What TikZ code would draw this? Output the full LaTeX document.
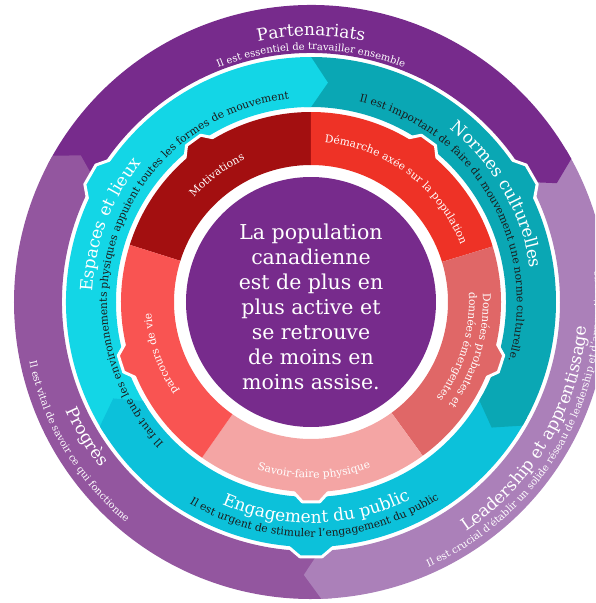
\documentclass[tikz,border=0pt]{standalone}
\usepackage{fontspec}
\setmainfont{DejaVu Serif}
\usepackage{xcolor}
\usetikzlibrary{decorations.text,calc}

\definecolor{partpurple}{HTML}{772B8C}
\definecolor{progpurple}{HTML}{93569F}
\definecolor{leadlilac}{HTML}{AB80B9}
\definecolor{espcyan}{HTML}{13D6E6}
\definecolor{normteal}{HTML}{0AA7B4}
\definecolor{engcyan}{HTML}{0CC1DA}
\definecolor{motivred}{HTML}{A30F10}
\definecolor{demred}{HTML}{EE3226}
\definecolor{donred}{HTML}{E06767}
\definecolor{savpink}{HTML}{F4A5A4}
\definecolor{parcred}{HTML}{F95452}
\definecolor{darktext}{HTML}{1B1B1B}

\begin{document}
\begin{tikzpicture}[x=1pt,y=1pt]
  \useasboundingbox (-311,-301) rectangle (284,302);
  \clip (-311,-301) rectangle (284,302);

  % #1 is inner radius
  % #2 is outer radius
  % #3 and #4 are the angles
  % #5 is colour
  \newcommand{\ringpart}[5]{
    \fill[#5] (#3:#1) arc[start angle=#3, end angle=#4, radius=#1]
      -- (#4:#2) arc[start angle=#4, end angle=#3, radius=#2] -- cycle;
  }

  % chevron at the end of a part, points clockwise
  % #3 is the angle of the border, #4 how far the tip goes
  \newcommand{\ringtip}[5]{
    \fill[#5] ({#3+2}:#1) -- (#3:#1) -- ({#3-#4}:{(#1+#2)/2}) -- (#3:#2) -- ({#3+2}:#2) -- cycle;
  }

  % bump on the outer edge of a part
  % #1 is outer radius, #2 is angle, #3 is colour
  \newcommand{\ringbump}[3]{
    \filldraw[fill=#3, draw=white, line width=3pt, line join=round]
      ({#2+7}:{#1-4}) -- ({#2+2.5}:{#1+10}) -- ({#2-2.5}:{#1+10}) -- ({#2-7}:{#1-4}) -- cycle;
  }

  % #1 is radius, #2 and #3 are the angles, #4 is format, #5 is text
  \newcommand{\arctext}[5]{
    \path[decorate, decoration={text along path, text align=center, text={|#4|#5}}]
      (#2:#1) arc[start angle=#2, end angle=#3, radius=#1];
  }

  \newcommand{\titlefmt}{\color{white}\fontsize{17}{20}\selectfont}
  \newcommand{\outerfmt}{\color{white}\fontsize{10}{12}\selectfont}
  \newcommand{\midfmt}{\color{darktext}\fontsize{10.7}{12}\selectfont}
  \newcommand{\innerfmt}{\color{white}\fontsize{10.7}{12}\selectfont}

  % outer ring
  \ringpart{249}{297}{28.8}{150.5}{partpurple}
  \ringpart{249}{297}{150.5}{272}{progpurple}
  \ringpart{249}{297}{-88}{28.8}{leadlilac}
  \ringtip{249}{297}{28.8}{3}{partpurple}
  \ringtip{249}{297}{150.5}{3}{progpurple}
  \ringtip{249}{297}{-88}{3.5}{leadlilac}

  % middle ring
  \ringbump{245}{150}{espcyan}
  \ringbump{245}{30}{normteal}
  \ringbump{245}{-90}{engcyan}
  \ringpart{195}{245}{90}{210.5}{espcyan}
  \ringpart{195}{245}{-30.3}{90}{normteal}
  \ringpart{195}{245}{210.5}{329.7}{engcyan}
  \ringtip{195}{245}{90}{4.4}{espcyan}
  \ringtip{195}{245}{-30.3}{4.5}{normteal}
  \ringtip{195}{245}{210.5}{4.5}{engcyan}

  % inner ring
  \ringbump{190}{126}{motivred}
  \ringbump{190}{54}{demred}
  \ringbump{190}{-18}{donred}
  \ringbump{190}{-90}{savpink}
  \ringbump{190}{198}{parcred}
  \ringpart{137}{190}{90}{162.5}{motivred}
  \ringpart{137}{190}{17}{90}{demred}
  \ringpart{137}{190}{-54}{17}{donred}
  \ringpart{137}{190}{235}{306}{savpink}
  \ringpart{137}{190}{162.5}{235}{parcred}

  \fill[partpurple] (0,0) circle[radius=125];

  % outer texts
  \arctext{266}{170}{10}{\titlefmt}{Partenariats}
  \arctext{252}{170}{10}{\outerfmt}{Il est essentiel de travailler ensemble}
  \arctext{268}{165}{257}{\titlefmt}{Progrès}
  \arctext{288}{165}{257}{\outerfmt}{Il est vital de savoir ce qui fonctionne}
  \arctext{277}{-90.5}{29.5}{\titlefmt}{Leadership et apprentissage}
  \arctext{290}{-100}{40}{\outerfmt}{Il est crucial d’établir un solide réseau de leadership et d’apprentissage}

  % middle texts
  \arctext{219}{229}{89}{\titlefmt}{Espaces et lieux}
  \arctext{204}{260}{60}{\midfmt}{Il faut que les environnements physiques appuient toutes les formes de mouvement}
  \arctext{222}{100}{-40}{\titlefmt}{Normes culturelles}
  \arctext{206}{120}{-60}{\midfmt}{Il est important de faire du mouvement une norme culturelle.}
  \arctext{221}{221.5}{321.5}{\titlefmt}{Engagement du public}
  \arctext{235}{211}{331}{\midfmt}{Il est urgent de stimuler l’engagement du public}

  % inner texts
  \arctext{157}{156.5}{96.5}{\innerfmt}{Motivations}
  \arctext{160}{98}{8}{\innerfmt}{Démarche axée sur la population}
  \arctext{172}{28}{-62}{\innerfmt}{Données probantes et}
  \arctext{158}{28}{-62}{\innerfmt}{données émergentes}
  \arctext{176}{236}{306}{\innerfmt}{Savoir-faire physique}
  \arctext{160}{234}{164}{\innerfmt}{parcours de vie}

  \node[text=white, align=center, font=\fontsize{20.5}{25}\selectfont] (core) at (0,-5)
    {La population\\canadienne\\est de plus en\\plus active et\\se retrouve\\de moins en\\moins assise.};
\end{tikzpicture}
\end{document}
